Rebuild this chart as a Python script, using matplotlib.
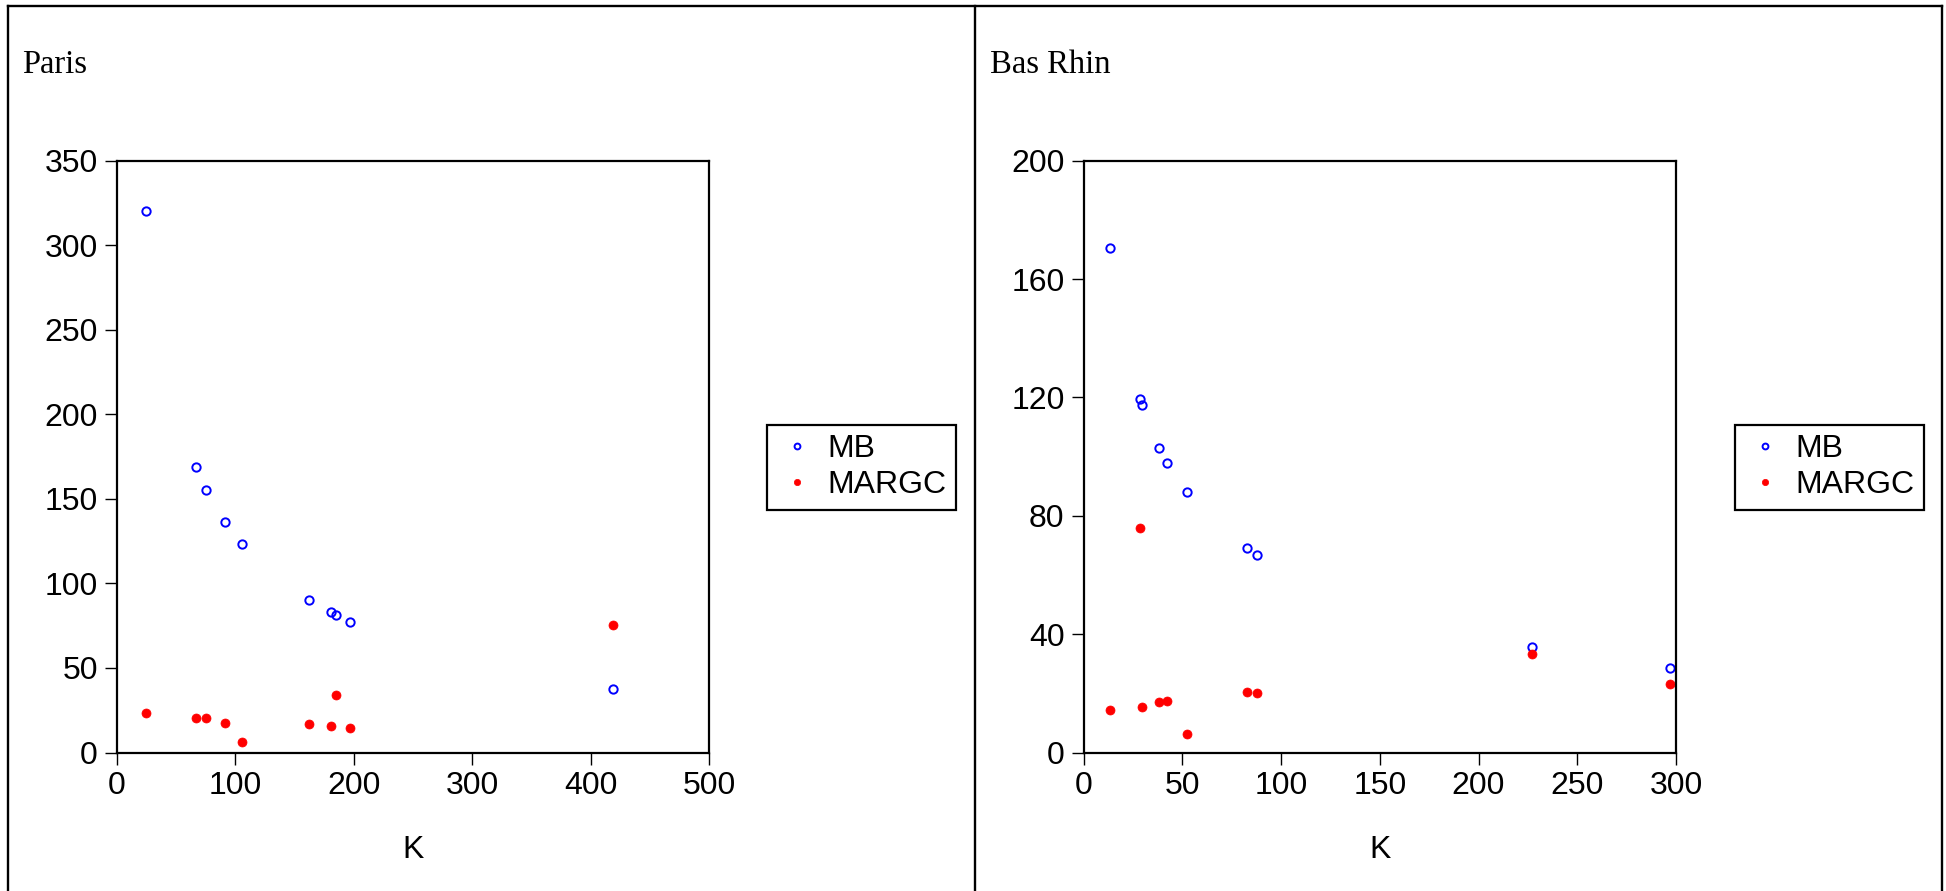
import matplotlib.pyplot as plt
from matplotlib.lines import Line2D

# Paris
paris_k = [24.4, 66.6, 75.6, 91.5, 105.7, 162.6, 180.7, 185.0, 197.2, 419.1]
paris_mb = [320.4, 169.0, 155.4, 136.4, 123.4, 90.1, 82.8, 81.2, 77.4, 37.6]
paris_margc = [23.4, 20.6, 20.2, 17.2, 6.4, 17.0, 15.4, 33.8, 14.5, 75.3]

# Bas Rhin
bas_k = [13.4, 28.4, 29.5, 38.2, 42.4, 52.5, 82.7, 87.6, 227.2, 297.2]
bas_mb = [170.6, 119.6, 117.5, 103.0, 98.0, 88.0, 69.1, 66.75, 35.8, 28.7]
bas_margc = [14.25, 75.75, 15.4, 17.0, 17.25, 6.4, 20.4, 20.1, 33.3, 23.1]

W, H = 1946, 891
fig = plt.figure(figsize=(W / 100, H / 100), dpi=100)

serif = "Liberation Serif"
sans = "Liberation Sans"

# outer frame (top, left, middle, right)
for xs, ys in [([8, 1942], [5.5, 5.5]), ([8, 8], [5.5, 891]),
               ([974.7, 974.7], [5.5, 891]), ([1942, 1942], [5.5, 891])]:
    fig.add_artist(Line2D([x / W for x in xs], [1 - y / H for y in ys],
                          color="black", linewidth=1.7))


def panel(left_px, title, title_x, k, mb, margc, xlim, ylim, xticks, yticks,
          legend_x):
    ax = fig.add_axes([left_px / W, (H - 752.5) / H, 592.5 / W, 591.8 / H])
    ax.plot(k, mb, linestyle="none", marker="o", markersize=6,
            markerfacecolor="none", markeredgecolor="blue",
            markeredgewidth=1.4, label="MB", clip_on=False)
    ax.plot(k, margc, linestyle="none", marker="o", markersize=6.5,
            markerfacecolor="red", markeredgecolor="red",
            markeredgewidth=0.5, label="MARGC", clip_on=False)
    ax.set_xlim(*xlim)
    ax.set_ylim(*ylim)
    ax.set_xticks(xticks)
    ax.set_yticks(yticks)
    for s in ax.spines.values():
        s.set_linewidth(1.6)
    ax.tick_params(direction="out", length=8.6, width=1.0, pad=5,
                   labelsize=23, top=False, right=False)
    for lab in ax.get_xticklabels() + ax.get_yticklabels():
        lab.set_family(sans)
    ax.set_xlabel("K", fontsize=23, family=sans, labelpad=24)
    fig.text(title_x / W, 1 - 73 / H, title, family=serif, fontsize=23.5,
             va="baseline", ha="left")
    leg = ax.legend(loc="upper left",
                    bbox_to_anchor=(legend_x / W, 1 - 424.5 / H),
                    bbox_transform=fig.transFigure, frameon=True,
                    fancybox=False, edgecolor="black", framealpha=1,
                    prop={"family": sans, "size": 23}, markerscale=0.7,
                    handlelength=1.3, handletextpad=0.3, borderpad=0.3,
                    labelspacing=0.2, borderaxespad=0)
    leg.get_frame().set_linewidth(1.6)
    return ax


panel(116.7, "Paris", 22, paris_k, paris_mb, paris_margc,
      (0, 500), (0, 350), [0, 100, 200, 300, 400, 500],
      [0, 50, 100, 150, 200, 250, 300, 350], 767)
panel(1083.5, "Bas Rhin", 990, bas_k, bas_mb, bas_margc,
      (0, 300), (0, 200), [0, 50, 100, 150, 200, 250, 300],
      [0, 40, 80, 120, 160, 200], 1735)

fig.savefig("out.png", dpi=100)
